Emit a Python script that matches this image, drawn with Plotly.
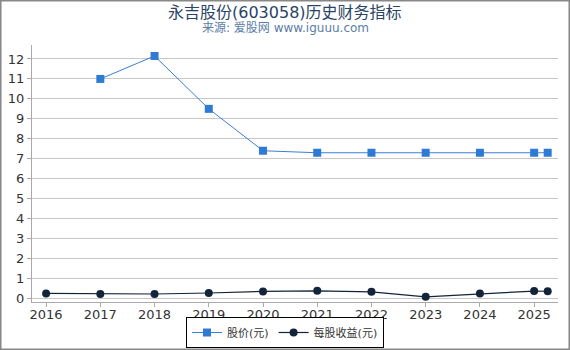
import plotly.graph_objects as go

price_x = [2017, 2018, 2019, 2020, 2021, 2022, 2023, 2024, 2025, 2025.25]
price_y = [11.0, 12.15, 9.5, 7.4, 7.3, 7.3, 7.3, 7.3, 7.3, 7.3]
eps_x = [2016, 2017, 2018, 2019, 2020, 2021, 2022, 2023, 2024, 2025, 2025.25]
eps_y = [0.25, 0.22, 0.22, 0.27, 0.35, 0.38, 0.33, 0.08, 0.24, 0.37, 0.36]
year_ticks = [2016, 2017, 2018, 2019, 2020, 2021, 2022, 2023, 2024, 2025]

FONT = "DejaVu Sans, Noto Sans CJK SC, sans-serif"

fig = go.Figure()
fig.add_trace(go.Scatter(
    x=price_x, y=price_y, name="股价(元)", mode="lines+markers",
    line=dict(color="#3a7fd5", width=1),
    marker=dict(symbol="square", size=8, color="#2e7bd6"),
))
fig.add_trace(go.Scatter(
    x=eps_x, y=eps_y, name="每股收益(元)", mode="lines+markers",
    line=dict(color="#13233a", width=1.2),
    marker=dict(symbol="circle", size=8, color="#13233a"),
))

L, R, T, B = 32, 12, 45, 48
W, H = 570, 350
pw, ph = W - L - R, H - T - B

fig.update_layout(
    width=W, height=H,
    margin=dict(l=L, r=R, t=T, b=B, autoexpand=False),
    paper_bgcolor="white", plot_bgcolor="white",
    font=dict(family=FONT, size=13, color="#333"),
    showlegend=True,
    legend=dict(
        orientation="h", xref="container", x=285 / W, xanchor="center",
        yref="container", y=2 / H, yanchor="bottom",
        bordercolor="#000", borderwidth=1, itemwidth=30,
        font=dict(size=11, color="#333"),
    ),
    annotations=[
        dict(text="永吉股份(603058)历史财务指标", xref="paper", yref="paper",
             x=(285 - L) / pw, y=(H - B - 12) / ph, xanchor="center", yanchor="middle",
             showarrow=False, font=dict(size=16, color="#2a4466", family=FONT)),
        dict(text="来源: 爱股网 www.iguuu.com", xref="paper", yref="paper",
             x=(285 - L) / pw, y=(H - B - 28) / ph, xanchor="center", yanchor="middle",
             showarrow=False, font=dict(size=12, color="#5b7ca6", family=FONT)),
    ],
    xaxis=dict(
        range=[2015.74, 2025.44], tickmode="array", tickvals=year_ticks,
        ticktext=[str(v) for v in year_ticks],
        showgrid=False, showline=True, linecolor="#aaa", linewidth=1,
        ticks="outside", ticklen=4, tickcolor="#aaa", zeroline=False,
        ticklabelstandoff=-4,
        tickfont=dict(size=13, color="#333"),
    ),
    yaxis=dict(
        range=[-0.18, 12.7], tickmode="array", tickvals=list(range(0, 13)),
        showgrid=True, gridcolor="#c8c8c8", gridwidth=1,
        showline=True, linecolor="#aaa", linewidth=1,
        ticks="outside", ticklen=4, tickcolor="#aaa", zeroline=False,
        tickfont=dict(size=13, color="#333"),
    ),
    shapes=[dict(
        type="rect", xref="paper", yref="paper",
        x0=-L / pw + 0.001, x1=1 + R / pw - 0.001,
        y0=-B / ph + 0.002, y1=1 + T / ph - 0.002,
        line=dict(color="#888", width=2), fillcolor="rgba(0,0,0,0)", layer="above",
    )],
)

fig.write_html("out.html")
